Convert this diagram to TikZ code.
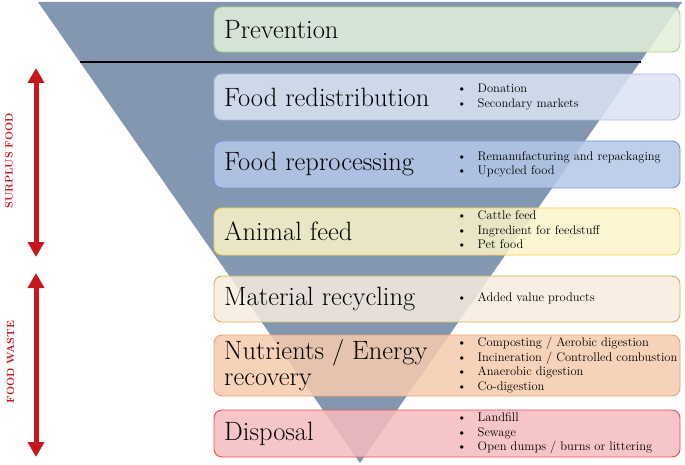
\documentclass[tikz,border=0pt]{standalone}
\usepackage{fontspec}
\usepackage{tikz}
\usetikzlibrary{arrows.meta}

\definecolor{funnel}{HTML}{8497B0}
\definecolor{wastered}{HTML}{C8161D}
\definecolor{prevfill}{HTML}{E2F0D9}
\definecolor{prevline}{HTML}{A9D18E}
\definecolor{redisfill}{HTML}{DAE3F3}
\definecolor{redisline}{HTML}{A6BDE4}
\definecolor{reprofill}{HTML}{B4C7E7}
\definecolor{reproline}{HTML}{7196D6}
\definecolor{feedfill}{HTML}{FAF3CA}
\definecolor{feedline}{HTML}{F2CF4A}
\definecolor{recycfill}{HTML}{F7EBDE}
\definecolor{recycline}{HTML}{D4B35A}
\definecolor{nutrfill}{HTML}{F5CBAE}
\definecolor{nutrline}{HTML}{F0A270}
\definecolor{dispfill}{HTML}{F5BCBE}
\definecolor{displine}{HTML}{F24848}

\begin{document}
\begin{tikzpicture}[x=1pt,y=-1pt,
  stage/.style={draw,rounded corners=8pt,line width=0.9pt,minimum width=466pt,fill opacity=0.86,inner sep=0pt},
  title/.style={anchor=west,inner sep=0pt,font=\fontsize{26.5}{26}\selectfont,align=left},
  items/.style={anchor=west,inner sep=0pt,font=\fontsize{12.5}{14.5}\selectfont},
  side/.style={rotate=90,text=wastered,font=\fontsize{10.5}{12}\selectfont\bfseries,inner sep=0pt},
  span/.style={wastered,line width=5pt,{Triangle[width=16pt,length=15pt]}-{Triangle[width=16pt,length=15pt]}}]

\useasboundingbox (0,0) rectangle (685,465);

% funnel
\fill[funnel] (38,2) -- (682,2) -- (360,463) -- cycle;

\coordinate (cutL) at (80,62);
\coordinate (cutR) at (641,62);
\draw[line width=1.5pt] (cutL) -- (cutR);

% stages
\node[stage,fill=prevfill,draw=prevline,minimum height=45pt] (prev) at (447,29.5) {};
\node[stage,fill=redisfill,draw=redisline,minimum height=46pt] (redis) at (447,97) {};
\node[stage,fill=reprofill,draw=reproline,minimum height=47pt] (repro) at (447,164.5) {};
\node[stage,fill=feedfill,draw=feedline,minimum height=47pt] (feed) at (447,231.5) {};
\node[stage,fill=recycfill,draw=recycline,minimum height=46pt] (recyc) at (447,299) {};
\node[stage,fill=nutrfill,draw=nutrline,minimum height=61pt] (nutr) at (447,365.5) {};
\node[stage,fill=dispfill,draw=displine,minimum height=47pt] (disp) at (447,433.5) {};

\node[title] (tprev) at (224,29.5) {Prevention};
\node[title] (tredis) at (224,97) {Food redistribution};
\node[title] (trepro) at (224,164.5) {Food reprocessing};
\node[title] (tfeed) at (224,231.5) {Animal feed};
\node[title] (trecyc) at (224,299) {Material recycling};
\node[title] (tnutr) at (224,365.5) {Nutrients / Energy\\recovery};
\node[title] (tdisp) at (224,433.5) {Disposal};

\node[items] (iredis) at (457,97) {\begin{tabular}{@{}l@{\hspace{11pt}}l@{}}
  \textbullet & Donation\\ \textbullet & Secondary markets\end{tabular}};
\node[items] (irepro) at (457,164.5) {\begin{tabular}{@{}l@{\hspace{11pt}}l@{}}
  \textbullet & Remanufacturing and repackaging\\ \textbullet & Upcycled food\end{tabular}};
\node[items] (ifeed) at (457,231.5) {\begin{tabular}{@{}l@{\hspace{11pt}}l@{}}
  \textbullet & Cattle feed\\ \textbullet & Ingredient for feedstuff\\ \textbullet & Pet food\end{tabular}};
\node[items] (irecyc) at (457,299) {\begin{tabular}{@{}l@{\hspace{11pt}}l@{}}
  \textbullet & Added value products\end{tabular}};
\node[items] (inutr) at (457,365.5) {\begin{tabular}{@{}l@{\hspace{11pt}}l@{}}
  \textbullet & Composting / Aerobic digestion\\ \textbullet & Incineration / Controlled combustion\\
  \textbullet & Anaerobic digestion\\ \textbullet & Co-digestion\end{tabular}};
\node[items] (idisp) at (457,433.5) {\begin{tabular}{@{}l@{\hspace{11pt}}l@{}}
  \textbullet & Landfill\\ \textbullet & Sewage\\ \textbullet & Open dumps / burns or littering\end{tabular}};

% side arrows
\coordinate (surpTop) at (36,68);
\coordinate (surpBot) at (36,257);
\coordinate (wasteTop) at (36,273);
\coordinate (wasteBot) at (36,457);
\draw[span] (surpTop) -- (surpBot);
\draw[span] (wasteTop) -- (wasteBot);

\node[side] (surplus) at (9,161) {SURPLUS FOOD};
\node[side] (waste) at (10.5,362) {FOOD WASTE};

\end{tikzpicture}
\end{document}
